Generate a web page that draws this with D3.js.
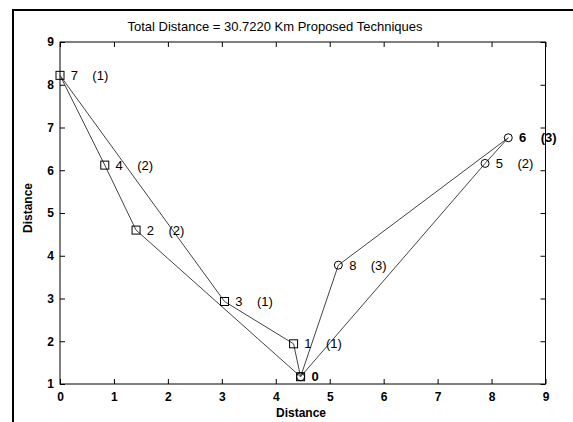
<!DOCTYPE html>
<html>
<head>
<meta charset="utf-8">
<script src="https://cdn.jsdelivr.net/npm/d3@7"></script>
<style>
  html, body { margin: 0; padding: 0; background: #fff; }
  svg { display: block; font-family: "Liberation Sans", Arial, sans-serif; }
</style>
</head>
<body>
<svg id="chart" width="573" height="422"></svg>
<script>
// Customer nodes (depot is node 0)
const nodeIds = [0, 1, 2, 3, 4, 5, 6, 7, 8];
const nodeX   = [4.46, 4.33, 1.41, 3.05, 0.83, 7.88, 8.31, 0.00, 5.16];
const nodeY   = [1.17, 1.94, 4.60, 2.93, 6.12, 6.16, 6.76, 8.22, 3.78];
// Vehicle tag shown next to each customer (none for the depot)
const nodeTag = [null, 1, 2, 1, 2, 2, 3, 1, 3];
// Marker shape per node
const nodeShape = ["both", "square", "square", "square", "square", "circle", "circle", "square", "circle"];

// Routes as node sequences
const routeSquare = [0, 1, 3, 7, 4, 2, 0];
const routeCircle = [0, 8, 6, 5, 0];

const xTicks = [0, 1, 2, 3, 4, 5, 6, 7, 8, 9];
const yTicks = [1, 2, 3, 4, 5, 6, 7, 8, 9];

const titleText = "Total Distance = 30.7220 Km Proposed Techniques";
const xLabel = "Distance";
const yLabel = "Distance";

const svg = d3.select("#chart");
const plotL = 60, plotR = 545.5, plotT = 42, plotB = 384;

const x = d3.scaleLinear().domain([0, 9]).range([plotL, plotR]);
const y = d3.scaleLinear().domain([1, 9]).range([plotB, plotT]);

// Figure frame (left and top edges)
svg.append("line").attr("x1", 13).attr("x2", 13).attr("y1", 9).attr("y2", 422)
  .attr("stroke", "#000").attr("stroke-width", 2);
svg.append("line").attr("x1", 12).attr("x2", 573).attr("y1", 10).attr("y2", 10)
  .attr("stroke", "#000").attr("stroke-width", 2);

// Axes box with inward ticks on all sides
const tickLen = 5;
const axisStyle = g => {
  g.select(".domain").remove();
  g.selectAll(".tick line").attr("stroke", "#000").attr("stroke-width", 1);
};
const tickText = g => g.selectAll("text").attr("font-size", 12).attr("font-weight", "bold")
  .attr("fill", "#000").attr("font-family", "Liberation Sans, Arial, sans-serif");

svg.append("g").attr("transform", `translate(0,${plotB})`)
  .call(d3.axisBottom(x).tickValues(xTicks).tickSize(-tickLen).tickPadding(8).tickFormat(d3.format("d")))
  .call(axisStyle).call(tickText);

svg.append("g").attr("transform", `translate(0,${plotT})`)
  .call(d3.axisTop(x).tickValues(xTicks).tickSize(-tickLen).tickFormat(""))
  .call(axisStyle);

svg.append("g").attr("transform", `translate(${plotL},0)`)
  .call(d3.axisLeft(y).tickValues(yTicks).tickSize(-tickLen).tickPadding(6).tickFormat(d3.format("d")))
  .call(axisStyle).call(tickText);

svg.append("g").attr("transform", `translate(${plotR},0)`)
  .call(d3.axisRight(y).tickValues(yTicks).tickSize(-tickLen).tickFormat(""))
  .call(axisStyle);

svg.append("rect").attr("x", plotL).attr("y", plotT)
  .attr("width", plotR - plotL).attr("height", plotB - plotT)
  .attr("fill", "none").attr("stroke", "#000").attr("stroke-width", 1);

// Route lines
const line = d3.line().x(i => x(nodeX[i])).y(i => y(nodeY[i]));
[routeSquare, routeCircle].forEach(r => {
  svg.append("path").attr("d", line(r))
    .attr("fill", "none").attr("stroke", "#444").attr("stroke-width", 1);
});

// Markers
const marks = svg.append("g");
nodeIds.forEach(i => {
  const cx = x(nodeX[i]), cy = y(nodeY[i]);
  const shape = nodeShape[i];
  if (shape === "square" || shape === "both") {
    marks.append("rect").attr("x", cx - 4).attr("y", cy - 4).attr("width", 8).attr("height", 8)
      .attr("fill", "none").attr("stroke", "#000").attr("stroke-width", 1);
  }
  if (shape === "circle" || shape === "both") {
    marks.append("circle").attr("cx", cx).attr("cy", cy).attr("r", 4)
      .attr("fill", "none").attr("stroke", "#000").attr("stroke-width", 1);
  }
});

// Node labels and vehicle tags
const labels = svg.append("g").attr("font-size", 13).attr("fill", "#000");
nodeIds.forEach(i => {
  labels.append("text").attr("x", x(nodeX[i] + 0.2)).attr("y", y(nodeY[i]))
    .attr("dy", "0.35em").attr("font-weight", i === 0 || i === 6 ? "bold" : "normal")
    .text(nodeIds[i]);
  if (nodeTag[i] !== null) {
    labels.append("text").attr("x", x(nodeX[i] + 0.6)).attr("y", y(nodeY[i]))
      .attr("dy", "0.35em").attr("font-weight", i === 6 ? "bold" : "normal")
      .text(`(${nodeTag[i]})`);
  }
});

// Title and axis labels
svg.append("text").attr("x", 275).attr("y", 31)
  .attr("text-anchor", "middle").attr("font-size", 13).text(titleText);
svg.append("text").attr("x", 301).attr("y", 417)
  .attr("text-anchor", "middle").attr("font-size", 12).attr("font-weight", "bold").text(xLabel);
svg.append("text").attr("transform", `translate(32,208) rotate(-90)`)
  .attr("text-anchor", "middle").attr("font-size", 12).attr("font-weight", "bold").text(yLabel);
</script>
</body>
</html>
